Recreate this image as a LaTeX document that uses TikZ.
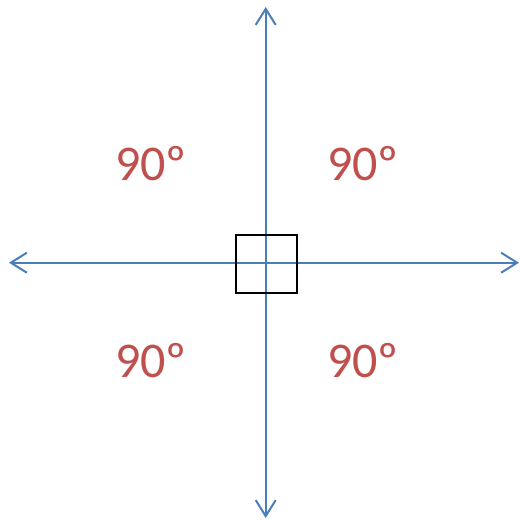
\documentclass[tikz,border=0pt]{standalone}
\usepackage{fontspec}
\setmainfont{Carlito}
\usetikzlibrary{arrows.meta}
\definecolor{axblue}{HTML}{4A7EBB}
\definecolor{lblred}{HTML}{C0504D}
\begin{document}
\begin{tikzpicture}[x=1pt,y=-1pt,
  tip/.tip={Straight Barb[length=16pt,width=20pt,line width=2pt,sharp]},
  axis/.style={draw=axblue,line width=2pt,tip-tip},
  lbl/.style={text=lblred,font=\fontsize{50}{60}\selectfont,inner sep=0pt}]
\useasboundingbox (0,0) rectangle (520,520);
\coordinate (T) at (265.7,7);
\coordinate (B) at (265.7,518);
\coordinate (L) at (9,262.7);
\coordinate (R) at (519,262.7);
\draw[axis] (T) -- (B);
\draw[axis] (L) -- (R);
\node[draw=black,line width=1.8pt,minimum width=61pt,minimum height=58pt,inner sep=0pt] (sq) at (266.2,263.7) {};
\node[lbl] (a1) at (151,164) {90º};
\node[lbl] (a2) at (363,164) {90º};
\node[lbl] (a3) at (151,361) {90º};
\node[lbl] (a4) at (363,361) {90º};
\end{tikzpicture}
\end{document}
